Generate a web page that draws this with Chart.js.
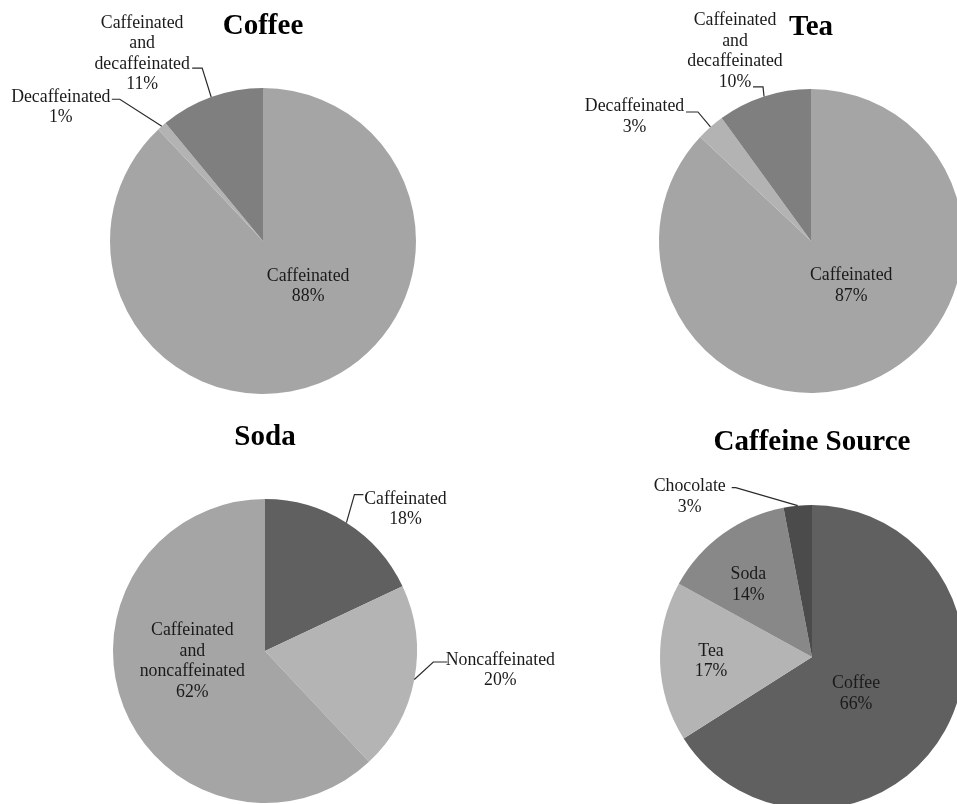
<!DOCTYPE html>
<html>
<head>
<meta charset="utf-8">
<script src="https://cdn.jsdelivr.net/npm/chart.js@4.4.1/dist/chart.umd.min.js"></script>
<style>
  html, body { margin: 0; padding: 0; background: #ffffff; overflow: hidden; width: 957px; height: 804px; }
  canvas { position: absolute; left: 0; top: 0; }
</style>
</head>
<body>
<canvas id="c0" width="1000" height="850"></canvas>
<canvas id="c1" width="1000" height="850"></canvas>
<canvas id="c2" width="1000" height="850"></canvas>
<canvas id="c3" width="1000" height="850"></canvas>
<script>
// ---------------- DATA ----------------
const chartTitles = ['Coffee', 'Tea', 'Soda', 'Caffeine Source'];

const coffeeLabels = ['Caffeinated', 'Decaffeinated', 'Caffeinated and decaffeinated'];
const coffeeValues = [88, 1, 11];

const teaLabels = ['Caffeinated', 'Decaffeinated', 'Caffeinated and decaffeinated'];
const teaValues = [87, 3, 10];

const sodaLabels = ['Caffeinated', 'Noncaffeinated', 'Caffeinated and noncaffeinated'];
const sodaValues = [18, 20, 62];

const sourceLabels = ['Coffee', 'Tea', 'Soda', 'Chocolate'];
const sourceValues = [66, 17, 14, 3];

// ---------------- STYLE / LAYOUT ----------------
const CANVAS_W = 1000, CANVAS_H = 850;
const pieGeom = [
  { cx: 263, cy: 241, r: 153 },
  { cx: 811, cy: 241, r: 152 },
  { cx: 265, cy: 651, r: 152 },
  { cx: 812, cy: 657, r: 152 }
];
const titleGap = [61, 61, 61, 62];

const coffeeColors = ['#a5a5a5', '#b3b3b3', '#7f7f7f'];
const teaColors = ['#a5a5a5', '#b3b3b3', '#7f7f7f'];
const sodaColors = ['#606060', '#b4b4b4', '#a5a5a5'];
const sourceColors = ['#606060', '#b4b4b4', '#888888', '#4b4b4b'];

// label placement: 'in' = offset from slice centroid; 'out' = offsets from outer arc point
const coffeeLabelPos = [
  { mode: 'in', dx: 17, dy: -26 },
  { mode: 'out', dx: -101, dy: -19, ex: -42, ey: -27, hx: -50, hy: -27 },
  { mode: 'out', dx: -69, dy: -43, ex: -9, ey: -29, hx: -19, hy: -29 }
];
const teaLabelPos = [
  { mode: 'in', dx: 10, dy: -25 },
  { mode: 'out', dx: -76, dy: -10, ex: -12.5, ey: -15, hx: -24.5, hy: -15 },
  { mode: 'out', dx: -29, dy: -45, ex: -1, ey: -9.5, hx: -11, hy: -9.5 }
];
const sodaLabelPos = [
  { mode: 'out', dx: 59, dy: -13.5, ex: 8, ey: -28, hx: 17, hy: -28 },
  { mode: 'out', dx: 86, dy: -9, ex: 19, ey: -17.5, hx: 33, hy: -17.5 },
  { mode: 'in', dx: -2, dy: -17.5 }
];
const sourceLabelPos = [
  { mode: 'in', dx: -22.5, dy: 0 },
  { mode: 'in', dx: -25, dy: 2 },
  { mode: 'in', dx: -19, dy: -10.5 },
  { mode: 'out', dx: -108, dy: -9, ex: -62, ey: -18, hx: -66, hy: -18 }
];

const LABEL_FONT = '17.8px "Liberation Serif", "Times New Roman", serif';
const TITLE_FONT = 'bold 29px "Liberation Serif", "Times New Roman", serif';
const LINE_H = 20.5;
const TEXT_COLOR = '#1a1a1a';
const LEADER_COLOR = '#2a2a2a';

// ---------------- PLUGIN ----------------
const pieLabelPlugin = {
  id: 'pieLabels',
  afterDatasetsDraw(chart, args, opts) {
    const ctx = chart.ctx;
    const meta = chart.getDatasetMeta(0);
    const data = chart.data.datasets[0].data;
    const names = chart.data.labels;
    ctx.save();
    meta.data.forEach((arc, i) => {
      const p = arc.getProps(['x', 'y', 'startAngle', 'endAngle', 'outerRadius'], true);
      const mid = (p.startAngle + p.endAngle) / 2;
      const pos = opts.positions[i];
      const lines = names[i].split(' ').concat([data[i] + '%']);
      let tx, ty;
      if (pos.mode === 'in') {
        const c = arc.tooltipPosition(true);
        tx = c.x + pos.dx; ty = c.y + pos.dy;
      } else {
        const ax = p.x + p.outerRadius * Math.cos(mid);
        const ay = p.y + p.outerRadius * Math.sin(mid);
        tx = ax + pos.dx; ty = ay + pos.dy;
        ctx.strokeStyle = LEADER_COLOR;
        ctx.lineWidth = 1.2;
        ctx.beginPath();
        ctx.moveTo(ax, ay);
        ctx.lineTo(ax + pos.ex, ay + pos.ey);
        ctx.lineTo(ax + pos.hx, ay + pos.hy);
        ctx.stroke();
      }
      ctx.font = LABEL_FONT;
      ctx.fillStyle = TEXT_COLOR;
      ctx.textAlign = 'center';
      ctx.textBaseline = 'middle';
      const y0 = ty - (lines.length - 1) * LINE_H / 2;
      lines.forEach((ln, k) => ctx.fillText(ln, tx, y0 + k * LINE_H));
    });
    // title
    const a0 = meta.data[0];
    const cp = a0.getProps(['x', 'y', 'outerRadius'], true);
    ctx.font = TITLE_FONT;
    ctx.fillStyle = '#000000';
    ctx.textAlign = 'center';
    ctx.textBaseline = 'middle';
    ctx.fillText(opts.title, cp.x, cp.y - cp.outerRadius - opts.titleGap);
    ctx.restore();
  }
};

function makePie(id, idx, labels, values, colors, positions) {
  const g = pieGeom[idx];
  new Chart(document.getElementById(id), {
    type: 'pie',
    data: {
      labels: labels,
      datasets: [{ data: values, backgroundColor: colors, borderWidth: 0, hoverOffset: 0 }]
    },
    options: {
      responsive: false,
      animation: false,
      events: [],
      layout: {
        padding: {
          left: g.cx - g.r,
          top: g.cy - g.r,
          right: CANVAS_W - (g.cx + g.r),
          bottom: CANVAS_H - (g.cy + g.r)
        }
      },
      plugins: {
        legend: { display: false },
        tooltip: { enabled: false },
        title: { display: false },
        pieLabels: { positions: positions, title: chartTitles[idx], titleGap: titleGap[idx] }
      }
    },
    plugins: [pieLabelPlugin]
  });
}

makePie('c0', 0, coffeeLabels, coffeeValues, coffeeColors, coffeeLabelPos);
makePie('c1', 1, teaLabels, teaValues, teaColors, teaLabelPos);
makePie('c2', 2, sodaLabels, sodaValues, sodaColors, sodaLabelPos);
makePie('c3', 3, sourceLabels, sourceValues, sourceColors, sourceLabelPos);
</script>
</body>
</html>
